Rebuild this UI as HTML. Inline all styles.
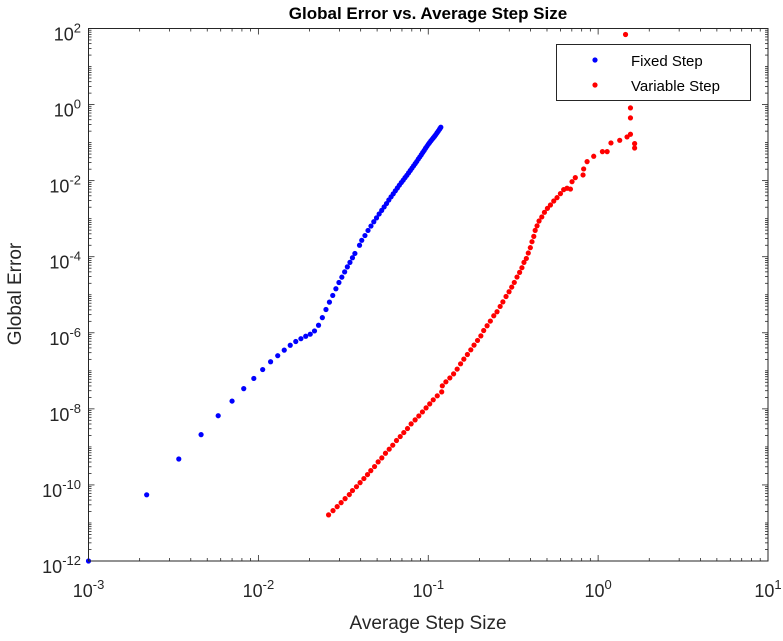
<!DOCTYPE html>
<html><head><meta charset="utf-8"><style>
html,body{margin:0;padding:0;background:#fff;}
svg text{font-family:"Liberation Sans",Arial,sans-serif;fill:#262626;}
</style></head><body>
<svg id="chart" width="783" height="636" viewBox="0 0 783 636" xmlns="http://www.w3.org/2000/svg">
<rect x="0" y="0" width="783" height="636" fill="#fff"/>
<text x="428" y="19" text-anchor="middle" font-size="17" font-weight="bold" style="fill:#000">Global Error vs. Average Step Size</text>
<text x="428" y="629" text-anchor="middle" font-size="19">Average Step Size</text>
<text transform="translate(21,294) rotate(-90)" text-anchor="middle" font-size="19">Global Error</text>
<g id="ticks"></g>
<g id="ticklabels"></g>
<g id="fixed"></g>
<g id="variable"></g>
<rect x="88.5" y="28.5" width="679.5" height="532.5" fill="none" stroke="#262626" stroke-width="1"/>
<g>
<rect x="556.5" y="44.5" width="194" height="56" fill="#fff" stroke="#262626" stroke-width="1"/>
<circle cx="595" cy="60" r="2.6" fill="#0000ff"/>
<text x="631" y="66" font-size="15" style="fill:#000">Fixed Step</text>
<circle cx="595" cy="85" r="2.6" fill="#ff0000"/>
<text x="631" y="91" font-size="15" style="fill:#000">Variable Step</text>
</g>
</svg>
<script>
const xTickExps = [-3, -2, -1, 0, 1];
const yTickExps = [-12, -10, -8, -6, -4, -2, 0, 2];
const fixedStep = [0.001,0.0022,0.0034,0.0046,0.0058,0.007,0.0082,0.0094,0.0106,0.0118,0.013,0.0142,0.0154,0.0166,0.0178,0.019,0.0202,0.0214,0.0226,0.0238,0.025,0.0262,0.0274,0.0286,0.0298,0.031,0.0322,0.0334,0.0346,0.0358,0.037,0.0394,0.0406,0.0424,0.0442,0.046,0.0478,0.0496,0.0514,0.0532,0.055,0.0568,0.0586,0.0604,0.0622,0.064,0.0658,0.0676,0.0694,0.0712,0.073,0.0748,0.0766,0.0784,0.0802,0.082,0.0838,0.0856,0.0874,0.0892,0.091,0.0928,0.0946,0.0964,0.0982,0.1,0.1018,0.1036,0.1054,0.1072,0.109,0.1108,0.1126,0.1144,0.1162,0.1174,0.1186];
const fixedErr = [1e-12,5.5e-11,4.8e-10,2.1e-9,6.6e-9,1.6e-8,3.4e-8,6.3e-8,1.08e-7,1.73e-7,2.5e-7,3.5e-7,4.7e-7,5.9e-7,7.0e-7,8.1e-7,9.2e-7,1.12e-6,1.58e-6,2.5e-6,4.1e-6,6.4e-6,9.6e-6,1.44e-5,2.1e-5,2.9e-5,4.0e-5,5.4e-5,7.1e-5,9.4e-5,1.22e-4,2.0e-4,2.7e-4,3.6e-4,4.9e-4,6.4e-4,8.3e-4,1.05e-3,1.33e-3,1.65e-3,2.04e-3,2.5e-3,3.1e-3,3.75e-3,4.5e-3,5.4e-3,6.4e-3,7.6e-3,8.9e-3,1.03e-2,1.2e-2,1.38e-2,1.6e-2,1.85e-2,2.13e-2,2.45e-2,2.8e-2,3.2e-2,3.7e-2,4.2e-2,4.8e-2,5.5e-2,6.2e-2,7.1e-2,8.0e-2,9.0e-2,0.100,0.111,0.122,0.134,0.147,0.162,0.180,0.199,0.220,0.236,0.253];
const varStep = [0.0259,0.0275,0.0291,0.0307,0.0324,0.0343,0.0358,0.0378,0.0397,0.0418,0.0439,0.0459,0.0483,0.0507,0.0533,0.0560,0.0589,0.0618,0.0650,0.0684,0.0718,0.0755,0.0793,0.0837,0.0880,0.0924,0.0971,0.102,0.107,0.113,0.120,0.121,0.127,0.134,0.141,0.148,0.155,0.162,0.170,0.178,0.186,0.195,0.204,0.212,0.222,0.232,0.243,0.254,0.265,0.275,0.287,0.299,0.310,0.321,0.333,0.345,0.356,0.366,0.378,0.388,0.399,0.408,0.418,0.426,0.437,0.449,0.466,0.483,0.503,0.524,0.548,0.573,0.600,0.627,0.656,0.687,0.702,0.734,0.815,0.822,0.861,0.942,1.06,1.13,1.19,1.34,1.48,1.55,1.64,1.64,1.55,1.55,1.45];
const varErr = [1.63e-11,2.11e-11,2.69e-11,3.43e-11,4.37e-11,5.57e-11,7.1e-11,9.0e-11,1.15e-10,1.47e-10,1.87e-10,2.38e-10,3.04e-10,4.04e-10,5.14e-10,6.8e-10,8.7e-10,1.11e-9,1.47e-9,1.87e-9,2.38e-9,3.04e-9,4.03e-9,5.14e-9,6.5e-9,8.3e-9,1.06e-8,1.35e-8,1.73e-8,2.2e-8,2.8e-8,4.03e-8,5.14e-8,6.5e-8,8.3e-8,1.11e-7,1.53e-7,2.03e-7,2.69e-7,3.57e-7,4.74e-7,6.3e-7,8.3e-7,1.15e-6,1.53e-6,2.03e-6,2.8e-6,3.57e-6,4.93e-6,6.5e-6,9.0e-6,1.2e-5,1.59e-5,2.11e-5,2.92e-5,3.87e-5,5.14e-5,7.1e-5,9.0e-5,1.25e-4,1.73e-4,2.48e-4,3.43e-4,4.93e-4,6.5e-4,8.7e-4,1.11e-3,1.47e-3,1.87e-3,2.29e-3,2.92e-3,3.57e-3,4.55e-3,5.8e-3,6.3e-3,6.0e-3,9.4e-3,1.2e-2,1.41e-2,2.03e-2,3.16e-2,4.37e-2,5.8e-2,5.8e-2,9.8e-2,0.115,0.141,0.166,9.4e-2,7.2e-2,0.446,0.817,69.5];

const NS = 'http://www.w3.org/2000/svg';
const X0 = 88.5, X1 = 768, Y0 = 561, Y1 = 28.5;
const xMin = -3, xMax = 1, yMin = -12, yMax = 2;
function xs(v){ return X0 + (Math.log10(v) - xMin) / (xMax - xMin) * (X1 - X0); }
function ys(v){ return Y0 - (Math.log10(v) - yMin) / (yMax - yMin) * (Y0 - Y1); }
function mk(tag, attrs, parent){ const e = document.createElementNS(NS, tag); for (const k in attrs) e.setAttribute(k, attrs[k]); parent.appendChild(e); return e; }

const tg = document.getElementById('ticks');
const lg = document.getElementById('ticklabels');
for (let e = xMin; e <= xMax; e++) {
  for (let m = 1; m <= 9; m++) {
    if (e === xMax && m > 1) break;
    const px = xs(m * Math.pow(10, e));
    const len = m === 1 ? 6 : 3;
    const t1 = mk('line', {x1:px, x2:px, y1:Y0, y2:Y0-len, stroke:'#262626', 'stroke-width':0.8}, tg);
    
    
    const t2 = mk('line', {x1:px, x2:px, y1:Y1, y2:Y1+len, stroke:'#262626', 'stroke-width':0.8}, tg);
    
    
  }
}
for (let e = yMin; e <= yMax; e++) {
  for (let m = 1; m <= 9; m++) {
    if (e === yMax && m > 1) break;
    const py = ys(m * Math.pow(10, e));
    const len = (m === 1 && e % 2 === 0) ? 6 : 3;
    const t1 = mk('line', {x1:X0, x2:X0+len, y1:py, y2:py, stroke:'#262626', 'stroke-width':0.8}, tg);
    
    
    const t2 = mk('line', {x1:X1, x2:X1-len, y1:py, y2:py, stroke:'#262626', 'stroke-width':0.8}, tg);
    
    
  }
}
function label(x, y, exp, anchor, name){
  const t = mk('text', {x:x, y:y, 'text-anchor':anchor, 'font-size':18}, lg);
  
  
  const a = document.createElementNS(NS, 'tspan'); a.textContent = '10'; t.appendChild(a);
  const b = document.createElementNS(NS, 'tspan'); b.setAttribute('dy', '-8'); b.setAttribute('font-size', '13'); b.textContent = String(exp); t.appendChild(b);
}
xTickExps.forEach(e => label(xs(Math.pow(10, e)), 597, e, 'middle', 'x-tick-label'));
yTickExps.forEach(e => label(81, ys(Math.pow(10, e)) + 12, e, 'end', 'y-tick-label'));

const fg = document.getElementById('fixed');
fixedStep.forEach((h, i) => {
  const c = mk('circle', {cx:xs(h), cy:ys(fixedErr[i]), r:2.6, fill:'#0000ff'}, fg);
  
  
});
const vg = document.getElementById('variable');
varStep.forEach((h, i) => {
  const c = mk('circle', {cx:xs(h), cy:ys(varErr[i]), r:2.6, fill:'#ff0000'}, vg);
  
  
});
</script>
</body></html>
